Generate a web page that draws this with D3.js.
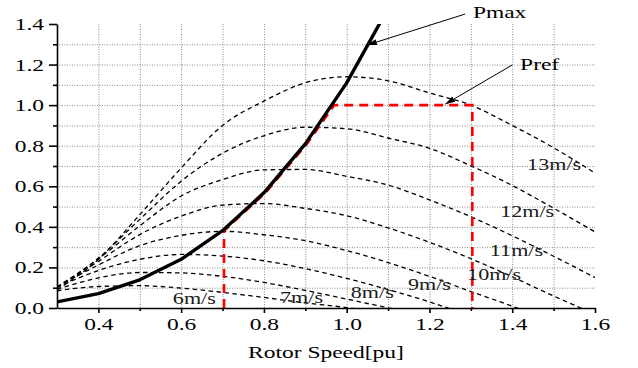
<!DOCTYPE html>
<html>
<head>
<meta charset="utf-8">
<script src="https://cdn.jsdelivr.net/npm/d3@7"></script>
<style>
  body { margin: 0; background: #fff; }
  svg { display: block; }
</style>
</head>
<body>
<div id="chart"></div>
<script>
// rotor speed (pu) where the curves were read
const omega = [0.3, 0.4, 0.5, 0.6, 0.7, 0.8, 0.9, 1.0, 1.1, 1.2, 1.3, 1.4, 1.5, 1.6];

// power (pu) per wind speed
const windNames = ['6m/s', '7m/s', '8m/s', '9m/s', '10m/s', '11m/s', '12m/s', '13m/s'];
const p6  = [0.085, 0.106, 0.110, 0.098, 0.077, 0.052, 0.025, 0.002, -0.03, null, null, null, null, null];
const p7  = [0.092, 0.148, 0.175, 0.173, 0.156, 0.126, 0.087, 0.044, 0.001, -0.04, null, null, null, null];
const p8  = [0.101, 0.185, 0.240, 0.264, 0.256, 0.233, 0.194, 0.146, 0.091, 0.030, -0.04, null, null, null];
const p9  = [0.104, 0.212, 0.307, 0.358, 0.378, 0.361, 0.332, 0.283, 0.224, 0.156, 0.081, 0.009, -0.07, null];
const p10 = [0.102, 0.230, 0.362, 0.453, 0.507, 0.515, 0.491, 0.455, 0.395, 0.324, 0.243, 0.154, 0.059, -0.03];
const p11 = [0.104, 0.242, 0.405, 0.552, 0.633, 0.681, 0.683, 0.649, 0.606, 0.533, 0.450, 0.356, 0.255, 0.150];
const p12 = [0.100, 0.246, 0.437, 0.625, 0.763, 0.849, 0.891, 0.884, 0.838, 0.787, 0.701, 0.604, 0.492, 0.375];
const p13 = [0.090, 0.240, 0.460, 0.690, 0.900, 1.020, 1.110, 1.140, 1.120, 1.060, 1.000, 0.900, 0.790, 0.665];
const windSeries = [p6, p7, p8, p9, p10, p11, p12, p13];

// maximum power tracking curve
const pmaxOmega = [0.3, 0.4, 0.5, 0.6, 0.7, 0.8, 0.9, 1.0, 1.1];
const pmax = [0.03, 0.071, 0.139, 0.24, 0.381, 0.568, 0.809, 1.11, 1.477];

// reference power path (red dashed)
const prefOmega = [0.7, 0.7, 0.8, 0.9, 0.966, 1.3, 1.3];
const pref = [0, 0.381, 0.568, 0.809, 1.0, 1.0, 0];

// ticks
const xTicks = [0.4, 0.6, 0.8, 1.0, 1.2, 1.4, 1.6];
const xMinor = [0.5, 0.7, 0.9, 1.1, 1.3, 1.5];
const yTicks = [0, 0.2, 0.4, 0.6, 0.8, 1.0, 1.2, 1.4];
const yMinor = [0.1, 0.3, 0.5, 0.7, 0.9, 1.1, 1.3];
const xGrid = [0.4, 0.5, 0.6, 0.7, 0.8, 0.9, 1.0, 1.1, 1.2, 1.3, 1.4, 1.5];
const yGrid = [0.1, 0.2, 0.3, 0.4, 0.5, 0.6, 0.7, 0.8, 0.9, 1.0, 1.1, 1.2, 1.3];

const width = 638, height = 368;
const margin = {top: 24, right: 43, bottom: 60, left: 57};
const font = 'Liberation Serif';
const stretch = 1.38;

const svg = d3.select('#chart').append('svg')
  .attr('width', width).attr('height', height);

const x = d3.scaleLinear().domain([0.3, 1.6]).range([margin.left, width - margin.right]);
const y = d3.scaleLinear().domain([0, 1.4]).range([height - margin.bottom, margin.top]);

svg.append('defs').append('clipPath').attr('id', 'plot')
  .append('rect')
  .attr('x', x(0.3)).attr('y', y(1.4))
  .attr('width', x(1.6) - x(0.3)).attr('height', y(0) - y(1.4));

const marker = svg.select('defs').append('marker')
  .attr('id', 'arrow').attr('viewBox', '0 0 10 6')
  .attr('refX', 10).attr('refY', 3)
  .attr('markerWidth', 10).attr('markerHeight', 6)
  .attr('markerUnits', 'userSpaceOnUse')
  .attr('orient', 'auto');
marker.append('path').attr('d', 'M0,0L10,3L0,6Z').attr('fill', '#000');

// grid
const grid = svg.append('g').attr('stroke', '#8a8a8a').attr('stroke-width', 1)
  .attr('stroke-dasharray', '1,1.5');
grid.selectAll('.gx').data(xGrid).join('line')
  .attr('x1', d => x(d) + 0.5).attr('x2', d => x(d) + 0.5)
  .attr('y1', y(1.4)).attr('y2', y(0));
grid.selectAll('.gy').data(yGrid).join('line')
  .attr('x1', x(0.3)).attr('x2', x(1.6))
  .attr('y1', d => y(d) + 0.5).attr('y2', d => y(d) + 0.5);

const plot = svg.append('g').attr('clip-path', 'url(#plot)');

// wind speed curves
const windLine = d3.line()
  .defined(d => d[1] !== null)
  .x(d => x(d[0])).y(d => y(d[1]))
  .curve(d3.curveMonotoneX);

plot.selectAll('.wind').data(windSeries).join('path')
  .attr('d', s => windLine(omega.map((w, i) => [w, s[i]])))
  .attr('fill', 'none').attr('stroke', '#000')
  .attr('stroke-width', 1.3).attr('stroke-dasharray', '4.5,3.5');

// reference power
const poly = d3.line().x(d => x(d[0])).y(d => y(d[1]));
plot.append('path')
  .attr('d', poly(prefOmega.map((w, i) => [w, pref[i]])))
  .attr('transform', 'translate(1.5,0)')
  .attr('fill', 'none').attr('stroke', '#ff0000')
  .attr('stroke-width', 2.6).attr('stroke-dasharray', '9,6');

// maximum power curve
plot.append('path')
  .attr('d', poly(pmaxOmega.map((w, i) => [w, pmax[i]])))
  .attr('fill', 'none').attr('stroke', '#000')
  .attr('stroke-width', 3.4).attr('stroke-linejoin', 'round');

// widen serif text the way the original does
function widen(sel) {
  sel.each(function () {
    const w = this.getComputedTextLength();
    if (w > 0) d3.select(this).attr('textLength', w * stretch).attr('lengthAdjust', 'spacingAndGlyphs');
  });
  return sel;
}

function label(g, txt, px, py, size, anchor) {
  return g.append('text')
    .attr('x', px).attr('y', py)
    .attr('text-anchor', anchor || 'start')
    .attr('font-family', font).attr('font-size', size)
    .attr('fill', '#000')
    .text(txt)
    .call(widen);
}

// wind speed labels
const windLabelAt = [[0.58, 0.02], [0.839, 0.025], [1.01, 0.049], [1.148, 0.089],
  [1.291, 0.138], [1.346, 0.256], [1.371, 0.448], [1.436, 0.68]];
windNames.forEach((n, i) => {
  label(svg, n, x(windLabelAt[i][0]), y(windLabelAt[i][1]), 16).attr('fill', '#1a1a1a');
});

// annotations
const notes = [
  {text: 'Pmax', at: [1.305, 1.43], from: [1.286, 1.449], to: [1.049, 1.296]},
  {text: 'Pref', at: [1.419, 1.173], from: [1.40, 1.198], to: [1.238, 1.005]}
];
notes.forEach(n => {
  svg.append('line')
    .attr('x1', x(n.from[0])).attr('y1', y(n.from[1]))
    .attr('x2', x(n.to[0])).attr('y2', y(n.to[1]))
    .attr('stroke', '#000').attr('stroke-width', 1)
    .attr('marker-end', 'url(#arrow)');
  label(svg, n.text, x(n.at[0]), y(n.at[1]), 17);
});

// axes
const fmt = d3.format('.1f');
const xAxis = svg.append('g')
  .attr('transform', `translate(0,${y(0)})`)
  .call(d3.axisBottom(x).tickValues(xTicks).tickFormat(fmt).tickSize(5).tickSizeOuter(0));
svg.append('g')
  .attr('transform', `translate(0,${y(0)})`)
  .call(d3.axisBottom(x).tickValues(xMinor).tickFormat('').tickSize(3).tickSizeOuter(0))
  .select('.domain').remove();
const yAxis = svg.append('g')
  .attr('transform', `translate(${x(0.3)},0)`)
  .call(d3.axisLeft(y).tickValues(yTicks).tickFormat(fmt).tickSize(8).tickSizeOuter(0));
svg.append('g')
  .attr('transform', `translate(${x(0.3)},0)`)
  .call(d3.axisLeft(y).tickValues(yMinor).tickFormat('').tickSize(4).tickSizeOuter(0))
  .select('.domain').remove();

svg.selectAll('.domain, .tick line').attr('stroke', '#000').attr('stroke-width', 1.6);

xAxis.attr('font-family', font).attr('font-size', 17);
yAxis.attr('font-family', font).attr('font-size', 17);
xAxis.selectAll('text')
  .attr('y', 10).attr('dy', '0.71em')
  .attr('fill', '#000')
  .call(widen);
yAxis.selectAll('text')
  .attr('x', -13)
  .attr('fill', '#000')
  .call(widen);

label(svg, 'Rotor Speed[pu]', (x(0.3) + x(1.6)) / 2, 358, 17, 'middle');
</script>
</body>
</html>
